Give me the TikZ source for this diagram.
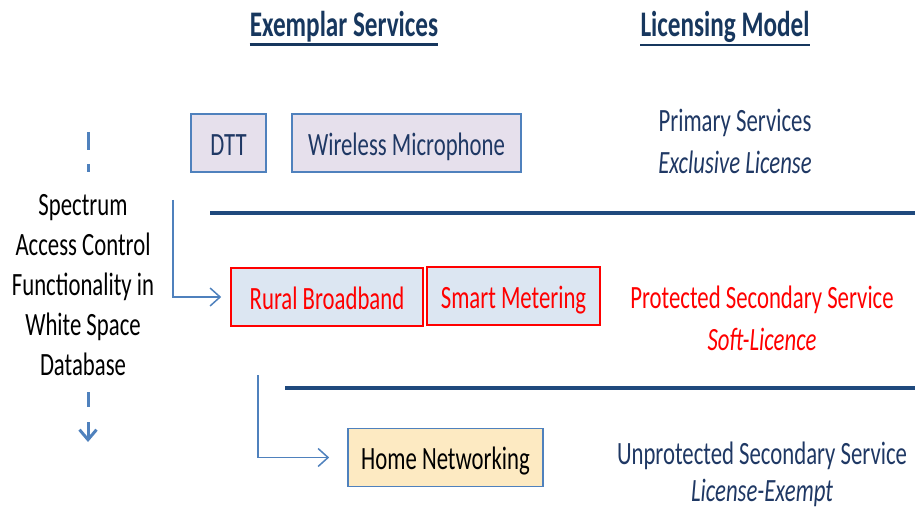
\documentclass[tikz,border=0pt]{standalone}
\usepackage{fontspec}
\setmainfont{Carlito}[FakeStretch=0.7]
\definecolor{NavyText}{RGB}{31,56,100}
\definecolor{TitleNavy}{RGB}{23,55,94}
\definecolor{RuleBlue}{RGB}{31,73,125}
\definecolor{LinkBlue}{RGB}{79,129,189}
\definecolor{SoftLilac}{RGB}{230,224,236}
\definecolor{SoftBlue}{RGB}{220,230,242}
\definecolor{SoftCream}{RGB}{253,234,194}
\usetikzlibrary{positioning,arrows.meta}

\begin{document}
\begin{tikzpicture}[
      x=1pt, y=-1pt,
      every node/.style={font=\fontsize{32.5}{40}\selectfont, align=center, inner sep=0pt},
      box/.style={draw, minimum height=58pt, text height=29pt, text depth=4.5pt, line width=1.6pt},
      primary/.style={box, fill=SoftLilac, draw=LinkBlue, text=NavyText},
      secondary/.style={box, fill=SoftBlue, draw=red, text=red},
      exempt/.style={box, fill=SoftCream, draw=LinkBlue, text=black},
      heading/.style={font=\fontsize{36}{40}\selectfont\bfseries, text=TitleNavy},
      tier/.style={text=NavyText},
      slant/.style={font=\fontsize{32.5}{40}\selectfont\itshape},
      rule/.style={draw=RuleBlue, line width=3.5pt},
      arr/.style={-{Straight Barb[length=10pt, width=18pt]}, draw=LinkBlue, line width=1.5pt},
      dasharr/.style={draw=LinkBlue, line width=3pt, dash pattern=on 18pt off 14pt}
  ]
    \useasboundingbox (0,0) rectangle (915,510);
    % headings
    \node[heading] (services) at (344,27) {Exemplar Services};
    \node[heading] (licensing) at (725,27) {Licensing Model};
    \draw[draw=TitleNavy, line width=2.5pt] ([yshift=-2pt]services.south west) -- ([yshift=-2pt]services.south east);
    \draw[draw=TitleNavy, line width=2.5pt] ([yshift=-2pt]licensing.south west) -- ([yshift=-2pt]licensing.south east);
    % left column
    \node (control) at (83,285) {Spectrum\\Access Control\\Functionality in\\White Space\\Database};
    \coordinate (ctop) at (88,132);
    \coordinate (cbot) at (88,392);
    \draw[dasharr] (ctop) -- ++(0,40);
    \draw[dasharr] (cbot) -- ++(0,15);
    \draw[draw=LinkBlue, line width=3pt, -{Straight Barb[length=10pt, width=17pt]}] ([yshift=-30pt]cbot) -- ++(0,20);
    % primary tier
    \node[primary, minimum width=75pt] (dtt) at (228.5,143) {DTT};
    \node[primary, minimum width=229pt] (mic) at (406.5,143) {Wireless Microphone};
    \node[tier] (primaryTxt) at (735,123) {Primary Services};
    \node[tier, slant] (exclusive) at (735,162) {Exclusive License};
    \draw[rule] (210,213) -- (915,213);
    % protected secondary tier
    \node[secondary, minimum width=192pt] (rural) at (327,297) {Rural Broadband};
    \node[secondary, minimum width=173pt] (meter) at (513.5,296) {Smart Metering};
    \node[text=red] (protectedTxt) at (762,300) {Protected Secondary Service};
    \node[text=red, slant] (soft) at (762,339) {Soft-Licence};
    \coordinate (src1) at (173,200);
    \draw[arr, shorten >=9pt] (src1) |- (rural.west);
    \draw[rule] (285,388) -- (915,388);
    % unprotected tier
    \node[exempt, minimum width=195pt] (home) at (445.5,457.5) {Home Networking};
    \node[tier] (unprotectedTxt) at (762,456) {Unprotected Secondary Service};
    \node[tier, slant] (licExempt) at (762,493) {License-Exempt};
    \coordinate (src2) at (258,375);
    \draw[arr, shorten >=18pt] (src2) |- (home.west);
  \end{tikzpicture}
\end{document}
